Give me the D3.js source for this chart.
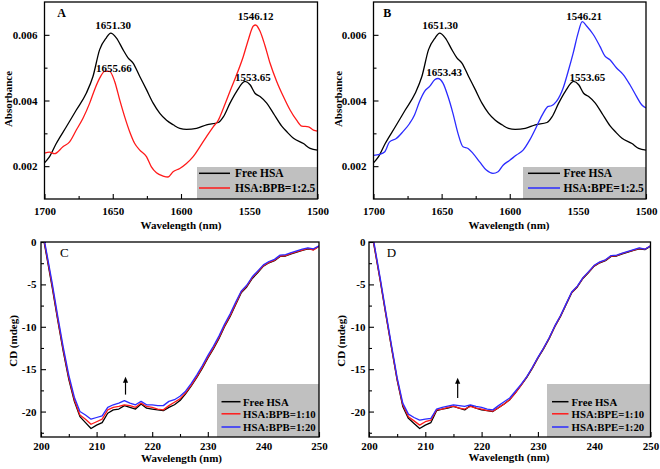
<!DOCTYPE html>
<html><head><meta charset="utf-8">
<script src="https://cdn.jsdelivr.net/npm/d3@7"></script>
<style>
html,body{margin:0;padding:0;background:#fff;}
svg text{font-family:"Liberation Serif","Times New Roman",serif;}
</style></head>
<body>
<svg id="chart" width="660" height="469"></svg>
<script>
// ---------- FTIR data (panels A, B) ----------
const freeHSA_wl = [1700,1696.3,1691.4,1684,1676.7,1669.4,1664.5,1659.6,1654.7,1651.5,1647.4,1642.5,1638.8,1635.1,1630.2,1625.3,1620.4,1615.5,1610.6,1605.7,1600.9,1596,1588.6,1581.3,1572.7,1569,1564.1,1559.2,1553.1,1549.4,1545.8,1542.1,1537.2,1532.3,1526.2,1522.5,1517.6,1510.3,1505.4,1500];
const freeHSA_abs = [0.0021,0.00229,0.00269,0.0032,0.00371,0.00422,0.00473,0.00555,0.00591,0.00605,0.00591,0.00555,0.0053,0.00514,0.00473,0.00433,0.00392,0.00361,0.0034,0.00326,0.00315,0.00312,0.00315,0.00326,0.00333,0.0035,0.00392,0.00428,0.00458,0.00448,0.00422,0.00412,0.00392,0.00361,0.00322,0.00305,0.00285,0.00269,0.00254,0.00249];

const bpb_wl = [1700,1696.3,1692.7,1686.5,1681.6,1676.7,1671.8,1666.9,1663.3,1659.6,1655.9,1652.3,1648.6,1644.9,1641.3,1637.6,1633.9,1630.2,1625.3,1621.7,1618,1613.1,1609.5,1605.8,1600.9,1596,1591.1,1586.2,1581.3,1576.4,1572.7,1569,1564.1,1559.2,1554.3,1550.6,1547,1545.3,1542.1,1538.4,1534.8,1529.9,1525,1520.1,1515.3,1511.5,1506.6,1503,1500];
const bpb_abs = [0.0024,0.00243,0.00238,0.00259,0.00274,0.0031,0.00346,0.00392,0.00433,0.00468,0.00489,0.00489,0.00458,0.00402,0.00351,0.00305,0.00269,0.00249,0.00229,0.00198,0.0018,0.0017,0.00167,0.00183,0.00193,0.00208,0.00229,0.00259,0.0029,0.0032,0.0034,0.00376,0.00428,0.00479,0.00535,0.00586,0.00627,0.0063,0.00611,0.00566,0.00514,0.00458,0.00412,0.00371,0.0034,0.00322,0.0032,0.0031,0.00307];

const bpe_wl = [1700,1695.6,1691.9,1688.2,1683.3,1678.4,1673.5,1669.9,1666.2,1662.5,1658.8,1655.1,1652.7,1649,1645.3,1641.7,1638,1634.3,1630.6,1627,1622.1,1617.2,1612.3,1608.6,1604.9,1600,1595.1,1590.2,1585.3,1580.4,1575.5,1571.8,1569.4,1565.7,1560.8,1557.1,1553.4,1549.8,1546.8,1543.6,1538.7,1533.8,1530.1,1526.5,1521.6,1516.7,1511.8,1506.9,1503.2,1500];
const bpe_abs = [0.00233,0.00236,0.00243,0.00274,0.00284,0.00305,0.0033,0.00356,0.00397,0.00428,0.00443,0.00463,0.00467,0.00453,0.00412,0.00361,0.003,0.00259,0.00254,0.00239,0.00213,0.00188,0.00178,0.00183,0.00203,0.00218,0.00234,0.00249,0.0028,0.0032,0.00361,0.00382,0.00384,0.00397,0.00438,0.00489,0.00545,0.00606,0.0064,0.00627,0.00601,0.00565,0.00535,0.00524,0.00499,0.00479,0.00448,0.00412,0.00387,0.00377];

// peak annotations [text, wavelength, absorbance at label baseline]
const peaksA = [["1651.30",1649.8,0.00619],["1655.66",1649.1,0.004855],["1546.12",1545.3,0.006447],["1553.65",1547.3,0.0046]];
const peaksB = [["1651.30",1651.1,0.00619],["1653.43",1648.2,0.004732],["1546.21",1545.4,0.006447],["1553.65",1543.0,0.0046]];

// ---------- CD data (panels C, D), 200-250 nm step 1 ----------
const cdWavelength = d3.range(200, 251, 1);
const cdFreeC = [2.0,-1.6,-5.3,-9.2,-12.9,-16.2,-18.8,-20.6,-21.3,-22.0,-21.6,-21.3,-20.2,-19.8,-19.7,-19.3,-19.5,-19.7,-19.1,-19.6,-19.7,-19.8,-19.9,-19.5,-19.2,-18.7,-17.9,-17.0,-16.0,-14.9,-13.7,-12.6,-11.4,-10.0,-8.8,-7.4,-6.0,-5.3,-4.3,-3.6,-2.85,-2.45,-2.2,-1.7,-1.65,-1.4,-1.2,-1.0,-0.8,-0.9,-0.5];
const cdBPB10 = [2.1,-1.4,-5.1,-9.0,-12.7,-16.0,-18.6,-20.4,-20.9,-21.5,-21.2,-20.9,-19.8,-19.5,-19.4,-19.2,-19.3,-19.5,-19.0,-19.4,-19.5,-19.7,-19.8,-19.3,-18.9,-18.5,-17.8,-16.9,-15.9,-14.8,-13.6,-12.5,-11.3,-9.9,-8.7,-7.3,-5.9,-5.2,-4.2,-3.5,-2.8,-2.4,-2.15,-1.65,-1.6,-1.35,-1.15,-0.95,-0.75,-0.95,-0.5];
const cdBPB20 = [2.3,-1.2,-4.8,-8.7,-12.4,-15.7,-18.3,-20.0,-20.4,-20.9,-20.7,-20.5,-19.5,-19.2,-19.0,-18.7,-19.0,-19.2,-18.8,-19.2,-19.2,-19.3,-19.3,-18.8,-18.6,-18.2,-17.6,-16.7,-15.7,-14.6,-13.4,-12.3,-11.1,-9.7,-8.5,-7.1,-5.8,-5.1,-4.1,-3.4,-2.7,-2.3,-2.05,-1.55,-1.5,-1.25,-1.05,-0.85,-0.7,-0.8,-0.45];
const cdFreeD = [2.8,-0.8,-4.6,-8.6,-12.5,-16.3,-19.4,-20.8,-21.4,-22.0,-21.6,-21.3,-19.9,-19.7,-19.6,-19.4,-19.6,-19.8,-19.3,-19.6,-19.8,-19.9,-20.0,-19.55,-19.1,-18.6,-17.8,-16.9,-16.0,-14.9,-13.7,-12.6,-11.4,-10.0,-8.8,-7.4,-6.0,-5.3,-4.3,-3.6,-2.85,-2.45,-2.2,-1.7,-1.65,-1.4,-1.2,-1.0,-0.8,-0.9,-0.5];
const cdBPE10 = [2.9,-0.7,-4.5,-8.5,-12.4,-16.2,-19.2,-20.6,-21.1,-21.6,-21.2,-21.0,-19.8,-19.7,-19.5,-19.35,-19.6,-19.7,-19.4,-19.6,-19.7,-19.9,-19.95,-19.55,-19.1,-18.6,-17.8,-16.9,-15.95,-14.85,-13.65,-12.55,-11.35,-9.95,-8.75,-7.35,-5.95,-5.25,-4.25,-3.55,-2.8,-2.4,-2.15,-1.65,-1.6,-1.35,-1.15,-0.95,-0.75,-0.85,-0.45];
const cdBPE20 = [3.0,-0.5,-4.3,-8.3,-12.2,-16.0,-19.0,-20.3,-20.7,-21.0,-20.9,-20.8,-19.7,-19.5,-19.35,-19.2,-19.3,-19.4,-19.2,-19.4,-19.5,-19.7,-19.8,-19.3,-18.85,-18.4,-17.6,-16.8,-15.9,-14.8,-13.6,-12.5,-11.3,-9.9,-8.7,-7.3,-5.9,-5.2,-4.2,-3.5,-2.75,-2.35,-2.1,-1.6,-1.55,-1.3,-1.1,-0.9,-0.7,-0.85,-0.45];

// ---------- ticks ----------
const ftirXMajor = [1700,1650,1600,1550,1500];
const ftirXMinor = [1675,1625,1575,1525];
const ftirYMajor = [0.002,0.004,0.006];
const ftirYMinor = [0.003,0.005];
const cdXMajor = [200,210,220,230,240,250];
const cdXMinor = [205,215,225,235,245];
const cdYMajor = [0,-5,-10,-15,-20];
const cdYMinor = [-2.5,-7.5,-12.5,-17.5,-22.5];

// arrows [wavelength, tailValue, headValue]
const arrowC = [215.2, -18.0, -15.9];
const arrowD = [215.75, -18.4, -16.0];

const legendA = ["Free HSA","HSA:BPB=1:2.5"];
const legendB = ["Free HSA","HSA:BPE=1:2.5"];
const legendC = ["Free HSA","HSA:BPB=1:10","HSA:BPB=1:20"];
const legendD = ["Free HSA","HSA:BPE=1:10","HSA:BPE=1:20"];

const RED = "#ff1a1a", BLUE = "#2b2bff", BLACK = "#000";
const svg = d3.select("#chart");

function zip(xs, ys){ return xs.map((x,i)=>[x, ys[i]]); }

function panel(cfg){
  const x = d3.scaleLinear().domain(cfg.xDom).range([cfg.x0, cfg.x1]);
  const y = d3.scaleLinear().domain(cfg.yDom).range([cfg.y1, cfg.y0]);
  const g = svg.append("g");
  const clipId = "clip" + cfg.id;
  svg.append("clipPath").attr("id", clipId).append("rect")
    .attr("x", cfg.x0).attr("y", cfg.y0).attr("width", cfg.x1-cfg.x0).attr("height", cfg.y1-cfg.y0);

  // axes
  const ax = g.append("g").attr("transform", `translate(0,${cfg.y1})`)
    .call(d3.axisBottom(x).tickValues(cfg.xMajor).tickSizeInner(-5).tickSizeOuter(0).tickPadding(cfg.xPad).tickFormat(d=>String(d)));
  const axm = g.append("g").attr("transform", `translate(0,${cfg.y1})`)
    .call(d3.axisBottom(x).tickValues(cfg.xMinor).tickSizeInner(-3).tickSizeOuter(0).tickFormat(""));
  const ay = g.append("g").attr("transform", `translate(${cfg.x0},0)`)
    .call(d3.axisLeft(y).tickValues(cfg.yMajor).tickSizeInner(-5).tickSizeOuter(0).tickPadding(cfg.yPad).tickFormat(cfg.yFmt));
  const aym = g.append("g").attr("transform", `translate(${cfg.x0},0)`)
    .call(d3.axisLeft(y).tickValues(cfg.yMinor).tickSizeInner(-3).tickSizeOuter(0).tickFormat(""));
  [ax,axm,ay,aym].forEach(a=>{
    a.select(".domain").remove();
    a.selectAll(".tick line").attr("stroke","#000").attr("stroke-width",1.1);
    a.selectAll("text").attr("font-size","11px").attr("font-weight","bold").attr("fill","#000")
      .style("font-family",'"Liberation Serif","Times New Roman",serif');
  });

  // curves
  const line = d3.line().x(d=>x(d[0])).y(d=>y(d[1])).curve(cfg.curve);
  const cg = g.append("g").attr("clip-path", `url(#${clipId})`);
  cfg.series.forEach(s=>{
    cg.append("path").datum(s.data).attr("fill","none").attr("stroke",s.color)
      .attr("stroke-width",1.3).attr("stroke-linejoin","round").attr("d",line);
  });

  // annotations
  (cfg.peaks||[]).forEach(p=>{
    g.append("text").attr("x", x(p[1])).attr("y", y(p[2])).attr("text-anchor","middle")
      .attr("font-size","11px").attr("font-weight","bold").text(p[0]);
  });
  if (cfg.arrow){
    const a = cfg.arrow, ax0 = x(a[0]), yt = y(a[1]), yh = y(a[2]);
    g.append("line").attr("x1",ax0).attr("x2",ax0).attr("y1",yt).attr("y2",yh+5)
      .attr("stroke","#000").attr("stroke-width",1.2);
    g.append("path").attr("d",`M${ax0},${yh} L${ax0-2.6},${yh+6} L${ax0+2.6},${yh+6} Z`).attr("fill","#000");
  }

  // legend
  const L = cfg.legend;
  g.append("rect").attr("x",L.x0).attr("y",L.y0).attr("width",L.x1-L.x0).attr("height",cfg.y1-L.y0)
    .attr("fill","#c0c0c0");
  cfg.series.forEach((s,i)=>{
    const ry = L.rows[i];
    g.append("line").attr("x1",L.lx0).attr("x2",L.lx1).attr("y1",ry).attr("y2",ry)
      .attr("stroke",s.color).attr("stroke-width",1.5);
    g.append("text").attr("x",L.tx).attr("y",ry+3.8).attr("font-size",L.fs).attr("font-weight","bold")
      .text(cfg.labels[i]);
  });

  // frame
  g.append("rect").attr("x",cfg.x0).attr("y",cfg.y0).attr("width",cfg.x1-cfg.x0).attr("height",cfg.y1-cfg.y0)
    .attr("fill","none").attr("stroke","#000").attr("stroke-width",1.3);

  // panel letter
  g.append("text").attr("x",cfg.tag.x).attr("y",cfg.tag.y).attr("font-size",cfg.tag.fs)
    .attr("font-weight",cfg.tag.fw).text(cfg.id);

  // axis titles
  g.append("text").attr("x",cfg.xt.x).attr("y",cfg.xt.y).attr("text-anchor","middle")
    .attr("font-size","11px").attr("font-weight","bold").text("Wavelength (nm)");
  g.append("text").attr("transform",`translate(${cfg.yt.x},${cfg.yt.y}) rotate(-90)`).attr("text-anchor","middle")
    .attr("font-size","11px").attr("font-weight","bold").text(cfg.yt.text);
}

const ftirFmt = d3.format(".3f");
const cdFmt = d => String(d);

panel({id:"A", x0:44.5, x1:317.5, y0:2, y1:199, xDom:[1700,1500], yDom:[0.001,0.007],
  xMajor:ftirXMajor, xMinor:ftirXMinor, yMajor:ftirYMajor, yMinor:ftirYMinor, xPad:8, yPad:7, yFmt:ftirFmt,
  curve:d3.curveMonotoneX,
  series:[{data:zip(freeHSA_wl,freeHSA_abs),color:BLACK},{data:zip(bpb_wl,bpb_abs),color:RED}],
  labels:legendA, peaks:peaksA,
  legend:{x0:197,x1:317.5,y0:167,rows:[173.3,188],lx0:199,lx1:230,tx:235,fs:"11.5px"},
  tag:{x:57.3,y:16.7,fs:"12px",fw:"bold"}, xt:{x:181,y:229}, yt:{x:11.5,y:99,text:"Absorbance"}});

panel({id:"B", x0:373.5, x1:646, y0:2, y1:199, xDom:[1700,1500], yDom:[0.001,0.007],
  xMajor:ftirXMajor, xMinor:ftirXMinor, yMajor:ftirYMajor, yMinor:ftirYMinor, xPad:8, yPad:7, yFmt:ftirFmt,
  curve:d3.curveMonotoneX,
  series:[{data:zip(freeHSA_wl,freeHSA_abs),color:BLACK},{data:zip(bpe_wl,bpe_abs),color:BLUE}],
  labels:legendB, peaks:peaksB,
  legend:{x0:523,x1:646,y0:167,rows:[173.3,188],lx0:528,lx1:560,tx:563.5,fs:"11.5px"},
  tag:{x:383.3,y:17.3,fs:"12px",fw:"bold"}, xt:{x:509,y:229}, yt:{x:341.5,y:99,text:"Absorbance"}});

panel({id:"C", x0:41, x1:319, y0:242, y1:437, xDom:[200,250], yDom:[-23,0],
  xMajor:cdXMajor, xMinor:cdXMinor, yMajor:cdYMajor, yMinor:cdYMinor, xPad:5, yPad:4.5, yFmt:cdFmt,
  curve:d3.curveLinear,
  series:[{data:zip(cdWavelength,cdFreeC),color:BLACK},{data:zip(cdWavelength,cdBPB10),color:RED},{data:zip(cdWavelength,cdBPB20),color:BLUE}],
  labels:legendC, arrow:arrowC,
  legend:{x0:217,x1:319,y0:384,rows:[401.7,413.8,427],lx0:221.5,lx1:240.5,tx:243,fs:"10.8px"},
  tag:{x:60,y:256.7,fs:"13px",fw:"normal"}, xt:{x:181.5,y:461.5}, yt:{x:16.5,y:341,text:"CD (mdeg)"}});

panel({id:"D", x0:369, x1:650.5, y0:242, y1:437, xDom:[200,250], yDom:[-23,0],
  xMajor:cdXMajor, xMinor:cdXMinor, yMajor:cdYMajor, yMinor:cdYMinor, xPad:5, yPad:3.5, yFmt:cdFmt,
  curve:d3.curveLinear,
  series:[{data:zip(cdWavelength,cdFreeD),color:BLACK},{data:zip(cdWavelength,cdBPE10),color:RED},{data:zip(cdWavelength,cdBPE20),color:BLUE}],
  labels:legendD, arrow:arrowD,
  legend:{x0:547,x1:650.5,y0:384,rows:[401.7,413.8,427],lx0:552,lx1:568.5,tx:571.5,fs:"10.8px"},
  tag:{x:386.7,y:256.7,fs:"13px",fw:"normal"}, xt:{x:509,y:460.5}, yt:{x:344.5,y:341,text:"CD (mdeg)"}});
</script>
</body></html>
